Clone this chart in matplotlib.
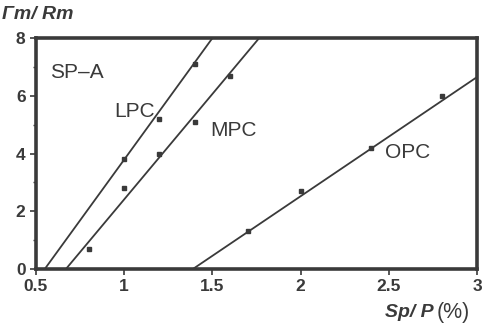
import matplotlib
matplotlib.use("Agg")
import matplotlib.pyplot as plt
from matplotlib.ticker import MultipleLocator

# measured points
lpc_x = [1.0, 1.2, 1.4]
lpc_y = [3.8, 5.2, 7.1]
mpc_x = [0.8, 1.0, 1.2, 1.4, 1.6]
mpc_y = [0.7, 2.8, 4.0, 5.1, 6.7]
opc_x = [1.7, 2.0, 2.4, 2.8]
opc_y = [1.3, 2.7, 4.2, 6.0]

# fitted lines (end points)
lpc_line_x = [0.55, 1.50]
lpc_line_y = [0.0, 8.0]
mpc_line_x = [0.67, 1.765]
mpc_line_y = [0.0, 8.0]
opc_line_x = [1.39, 3.0]
opc_line_y = [0.0, 6.65]

INK = "#3a3a3a"
plt.rcParams["font.family"] = ["Liberation Sans", "DejaVu Sans"]

fig = plt.figure(figsize=(4.83, 3.26), dpi=100)
ax = fig.add_axes([0.0745, 0.175, 0.913, 0.708])

for lx, ly, px, py in [
    (lpc_line_x, lpc_line_y, lpc_x, lpc_y),
    (mpc_line_x, mpc_line_y, mpc_x, mpc_y),
    (opc_line_x, opc_line_y, opc_x, opc_y),
]:
    ax.plot(lx, ly, color=INK, lw=1.3, clip_on=True)
    ax.plot(px, py, ls="none", marker="s", ms=3.2, color=INK)

ax.set_xlim(0.5, 3.0)
ax.set_ylim(0, 8)
ax.yaxis.set_major_locator(MultipleLocator(2))
ax.yaxis.set_minor_locator(MultipleLocator(1))
ax.set_xticks([0.5, 1, 1.5, 2, 2.5, 3])
ax.set_xticklabels(["0.5", "1", "1.5", "2", "2.5", "3"])
ax.tick_params(axis="both", which="major", length=4, width=1.2, color=INK,
               labelsize=12.5, labelcolor=INK, direction="out")
ax.tick_params(axis="y", which="minor", length=2.5, width=1.0, color=INK)
for lab in ax.get_xticklabels() + ax.get_yticklabels():
    lab.set_fontweight("bold")

for sp in ax.spines.values():
    sp.set_linewidth(2.6)
    sp.set_color(INK)

ax.text(0.58, 6.8, "SP\u2013A", fontsize=15, color=INK, va="center")
ax.text(0.945, 5.45, "LPC", fontsize=15, color=INK, va="center")
ax.text(1.49, 4.8, "MPC", fontsize=15, color=INK, va="center")
ax.text(2.48, 4.05, "OPC", fontsize=15, color=INK, va="center")

fig.text(0.004, 0.955, "\u0393m/ Rm", fontsize=14, style="italic",
         fontweight="bold", color=INK, va="center", ha="left")
fig.text(0.897, 0.042, "Sp/ P", fontsize=14, style="italic",
         fontweight="bold", color=INK, va="center", ha="right")
fig.text(0.903, 0.042, "(%)", fontsize=15.5, color=INK,
         va="center", ha="left")

fig.savefig("out.png", dpi=100)
